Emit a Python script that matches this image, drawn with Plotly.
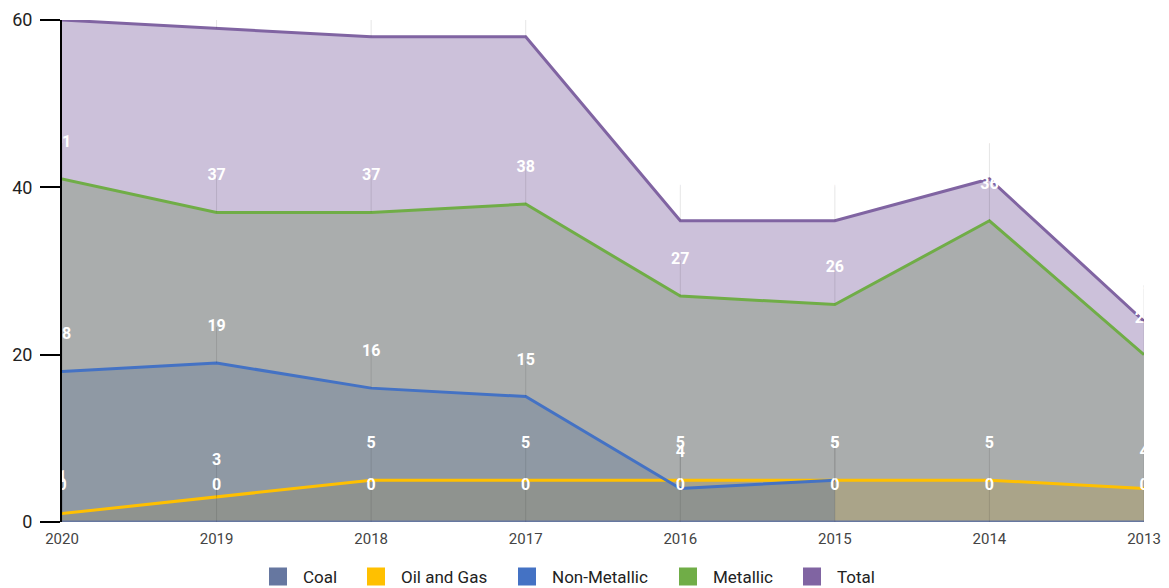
import plotly.graph_objects as go

years = ["2020", "2019", "2018", "2017", "2016", "2015", "2014", "2013"]
coal = [0, 0, 0, 0, 0, 0, 0, 0]
oil_gas = [1, 3, 5, 5, 5, 5, 5, 4]
non_metallic = [18, 19, 16, 15, 4, 5, None, None]
metallic = [41, 37, 37, 38, 27, 26, 36, 20]
total = [60, 59, 58, 58, 36, 36, 41, 24]

series = [
    ("Coal", coal, "#6677a0"),
    ("Oil and Gas", oil_gas, "#ffc000"),
    ("Non-Metallic", non_metallic, "#4472c4"),
    ("Metallic", metallic, "#70ad47"),
    ("Total", total, "#8064a2"),
]

# the page body adds an 8px offset, so the figure is drawn 8px smaller
PAGE_OFF = 8
W, H = 1169 - PAGE_OFF, 588 - PAGE_OFF
M = dict(l=62 - PAGE_OFF, r=25, t=20 - PAGE_OFF, b=66)
Y_MAX = 60
PX_PER_UNIT = (H - M["t"] - M["b"]) / Y_MAX
LABEL_OFF = 36 / PX_PER_UNIT  # label centre sits 36px above its point

# legend entry left edges (page px) for each series swatch
LEGEND_SWATCH_LEFT = [268, 366, 517, 678, 802]


def rgba(hex_color, a):
    h = hex_color.lstrip("#")
    r, g, b = int(h[0:2], 16), int(h[2:4], 16), int(h[4:6], 16)
    return f"rgba({r},{g},{b},{a})"


fig = go.Figure()

# area fills (each to zero, overlapping)
for name, vals, color in series:
    fig.add_trace(go.Scatter(
        x=years, y=vals, name=name, mode="none",
        fill="tozeroy", fillcolor=rgba(color, 0.4),
        connectgaps=False, showlegend=False, hoverinfo="skip",
    ))

# lines on top of all fills
for name, vals, color in series:
    fig.add_trace(go.Scatter(
        x=years, y=vals, name=name, mode="lines",
        line=dict(color=color, width=3),
        connectgaps=False, showlegend=False,
    ))

# value labels with leader lines, clipped to the plot area
for name, vals, color in series:
    xs = [x for x, v in zip(years, vals) if v is not None]
    vs = [v for v in vals if v is not None]
    fig.add_trace(go.Scatter(
        x=xs, y=[v + LABEL_OFF for v in vs], mode="text",
        text=[str(v) for v in vs], textposition="middle center",
        textfont=dict(family="Roboto", size=16, color="white", weight="bold"),
        error_y=dict(type="data", symmetric=False, array=[0] * len(vs),
                     arrayminus=[LABEL_OFF] * len(vs), thickness=1, width=0,
                     color="rgba(0,0,0,0.1)"),
        cliponaxis=True, showlegend=False, hoverinfo="skip",
    ))

# legend swatches, one small legend per series so spacing matches
legend_layout = {}
for i, (name, vals, color) in enumerate(series):
    lname = "legend" if i == 0 else f"legend{i + 1}"
    fig.add_trace(go.Scatter(
        x=[None], y=[None], name=name, mode="markers",
        marker=dict(symbol="square", size=18, color=color,
                    line=dict(color=color, width=2)),
        showlegend=True, legend=lname,
    ))
    legend_layout[lname] = dict(
        orientation="h",
        x=(LEGEND_SWATCH_LEFT[i] - 15 - PAGE_OFF) / W, xanchor="left", xref="container",
        y=(H - (577 - PAGE_OFF)) / H, yanchor="middle", yref="container",
        font=dict(family="Roboto", size=17, color="#222"),
        itemsizing="trace", itemwidth=40, bgcolor="rgba(0,0,0,0)",
    )

fig.update_layout(
    width=W, height=H,
    margin=M,
    paper_bgcolor="white", plot_bgcolor="white",
    font=dict(family="Roboto", color="#222"),
    showlegend=True,
    xaxis=dict(
        type="category", range=[0, len(years) - 1], showgrid=False,
        zeroline=False, showline=False, ticks="", automargin=False,
        tickfont=dict(family="Roboto", size=15, color="#444"),
        ticklabelstandoff=6,
    ),
    yaxis=dict(
        range=[0, Y_MAX], tickvals=[0, 20, 40, 60], showgrid=False,
        zeroline=False, showline=True, linecolor="black", linewidth=2,
        ticks="outside", ticklen=20, tickwidth=2, tickcolor="black",
        automargin=False, ticklabelstandoff=4,
        tickfont=dict(family="Roboto", size=18, color="#222"),
    ),
    **legend_layout,
)

fig.write_html("out.html")
